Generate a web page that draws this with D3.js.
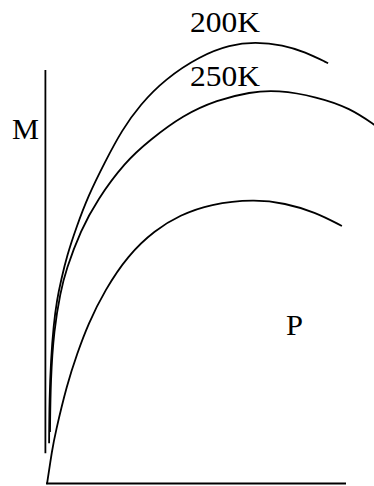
<!DOCTYPE html>
<html>
<head>
<meta charset="utf-8">
<script src="https://cdn.jsdelivr.net/npm/d3@7/dist/d3.min.js"></script>
<style>
  html, body { margin: 0; padding: 0; background: #fff; }
  svg { display: block; }
  text { font-family: "Liberation Serif", "Times New Roman", serif; fill: #000; }
</style>
</head>
<body>
<svg id="chart" width="374" height="486"></svg>
<script>
// Curve samples, [P, M] pairs in plot units
const curve200K = [
  [0.7, 10.2], [0.8, 21.0], [1.3, 31.0], [2.2, 39.8], [3.3, 46.0], [4.7, 51.0],
  [6.7, 57.2], [9.7, 64.0], [13.7, 72.0], [19.3, 80.5], [25.0, 88.5],
  [31.0, 94.8], [39.3, 101.2], [51.0, 107.0], [61.0, 109.8], [69.3, 110.5],
  [78.7, 109.8], [86.0, 108.0], [93.7, 105.2]
];
const curve250K = [
  [1.0, 13.0], [1.2, 26.0], [2.3, 38.5], [4.5, 48.0], [6.3, 53.5],
  [11.3, 63.5], [16.7, 71.0], [26.0, 80.5], [34.3, 86.0], [45.3, 92.2],
  [56.7, 96.0], [67.7, 98.0], [76.7, 98.5], [90.0, 96.8], [101.0, 94.0],
  [109.7, 89.5]
];
const curveLow = [
  [0.0, 0.0], [1.7, 8.5], [2.7, 12.5], [6.7, 25.0], [10.0, 32.5],
  [13.7, 40.0], [19.3, 48.5], [27.0, 57.2], [36.0, 63.5], [44.3, 67.2],
  [54.3, 70.0], [69.3, 71.2], [79.3, 70.2], [89.3, 68.0], [98.3, 64.5]
];
const seriesNames = ["200K", "250K"];
// Axis extents in plot units
const xAxisSpan = [0, 100];
const yAxisSpan = [7.7, 103.5];
const axisLabels = ["M", "P"];

const svg = d3.select("#chart");
const x = d3.scaleLinear().domain([0, 100]).range([47, 347]);
const y = d3.scaleLinear().domain([0, 110]).range([484, 44]);

const line = d3.line()
  .x(d => x(d[0]))
  .y(d => y(d[1]))
  .curve(d3.curveBasis);

// Axes: a bare vertical rule left of the origin and a baseline
svg.append("line")
  .attr("x1", x(0) - 1.6).attr("x2", x(0) - 1.6)
  .attr("y1", y(yAxisSpan[0])).attr("y2", y(yAxisSpan[1]))
  .attr("stroke", "#000").attr("stroke-width", 1.8);
svg.append("line")
  .attr("x1", x(xAxisSpan[0]) - 1).attr("x2", x(xAxisSpan[1]) - 1)
  .attr("y1", y(0) - 0.5).attr("y2", y(0) - 0.5)
  .attr("stroke", "#000").attr("stroke-width", 1.8);

svg.selectAll("path.curve")
  .data([curve200K, curve250K, curveLow])
  .join("path")
  .attr("class", "curve")
  .attr("d", line)
  .attr("fill", "none")
  .attr("stroke", "#000")
  .attr("stroke-width", 1.8);

// Labels
function label(txt, px, py, len) {
  svg.append("text")
    .attr("x", px).attr("y", py)
    .attr("font-size", 30)
    .attr("textLength", len)
    .attr("lengthAdjust", "spacingAndGlyphs")
    .text(txt);
}
label(seriesNames[0], 190, 32, 70);
label(seriesNames[1], 190, 86, 70);
label(axisLabels[0], 12, 139, 27);
label(axisLabels[1], 286, 335, 17);
</script>
</body>
</html>
